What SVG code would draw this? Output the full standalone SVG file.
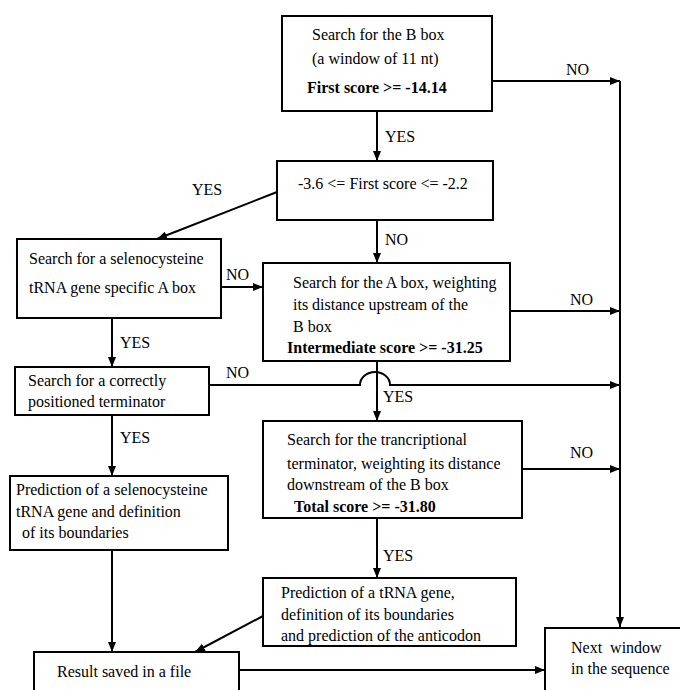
<svg xmlns="http://www.w3.org/2000/svg" width="680" height="690" viewBox="0 0 680 690">
<style>
.box{fill:#fff;stroke:#000;stroke-width:2}
.t{font-family:"Liberation Serif","Times New Roman",serif;font-size:16px;fill:#000}
.b{font-weight:bold}
.c{fill:none;stroke:#000;stroke-width:2}
</style>
<defs>
<marker id="ah" viewBox="0 0 10 8" refX="10" refY="4" markerWidth="10" markerHeight="8" markerUnits="userSpaceOnUse" orient="auto">
<path d="M0,0 L10,4 L0,8 z" fill="#000"/>
</marker>
</defs>
<rect width="680" height="690" fill="#fff"/>
<g id="connectors">
<path class="c" d="M492,81 H620" marker-end="url(#ah)"/>
<path class="c" d="M620,81 V627" marker-end="url(#ah)"/>
<path class="c" d="M377,111 V161" marker-end="url(#ah)"/>
<path class="c" d="M277,192 L157,239" marker-end="url(#ah)"/>
<path class="c" d="M377,220 V263" marker-end="url(#ah)"/>
<path class="c" d="M221,287 H263" marker-end="url(#ah)"/>
<path class="c" d="M510,311 H620" marker-end="url(#ah)"/>
<path class="c" d="M112,318 V367" marker-end="url(#ah)"/>
<path class="c" d="M209,385 H360 A15,13 0 0 1 390,385 H620" marker-end="url(#ah)"/>
<path class="c" d="M377,361 V421" marker-end="url(#ah)"/>
<path class="c" d="M112,415 V476" marker-end="url(#ah)"/>
<path class="c" d="M522,469 H620" marker-end="url(#ah)"/>
<path class="c" d="M377,518 V578" marker-end="url(#ah)"/>
<path class="c" d="M112,550 V652" marker-end="url(#ah)"/>
<path class="c" d="M263,616 L195,652" marker-end="url(#ah)"/>
<path class="c" d="M239,670 H545" marker-end="url(#ah)"/>
<text class="t" x="566" y="75">NO</text>
<text class="t" x="385" y="142">YES</text>
<text class="t" x="192" y="195">YES</text>
<text class="t" x="385" y="245">NO</text>
<text class="t" x="226" y="280">NO</text>
<text class="t" x="570" y="305">NO</text>
<text class="t" x="120" y="348">YES</text>
<text class="t" x="226" y="378">NO</text>
<text class="t" x="383" y="402">YES</text>
<text class="t" x="120" y="443">YES</text>
<text class="t" x="570" y="458">NO</text>
<text class="t" x="383" y="561">YES</text>
</g>
<g id="bbox">
<rect class="box" x="282" y="16" width="210" height="95"/>
<text class="t" x="312" y="40">Search for the B box</text>
<text class="t" x="312" y="64">(a window of 11 nt)</text>
<text class="t b" x="307" y="93">First score &gt;= -14.14</text>
</g>
<g id="decision">
<rect class="box" x="277" y="161" width="216" height="59"/>
<text class="t" x="298" y="189">-3.6 &lt;= First score &lt;= -2.2</text>
</g>
<g id="seleno">
<rect class="box" x="17" y="239" width="204" height="79"/>
<text class="t" x="29" y="264">Search for a selenocysteine</text>
<text class="t" x="29" y="293">tRNA gene specific A box</text>
</g>
<g id="abox">
<rect class="box" x="263" y="263" width="247" height="98"/>
<text class="t" x="293" y="288">Search for the A box, weighting</text>
<text class="t" x="293" y="310">its distance upstream of the</text>
<text class="t" x="293" y="332">B box</text>
<text class="t b" x="287" y="353">Intermediate score &gt;= -31.25</text>
</g>
<g id="posterm">
<rect class="box" x="15" y="367" width="194" height="48"/>
<text class="t" x="28" y="386">Search for a correctly</text>
<text class="t" x="28" y="407">positioned terminator</text>
</g>
<g id="term">
<rect class="box" x="263" y="421" width="259" height="97"/>
<text class="t" x="287" y="445">Search for the trancriptional</text>
<text class="t" x="287" y="469">terminator, weighting its distance</text>
<text class="t" x="287" y="490">downstream of the B box</text>
<text class="t b" x="294" y="512">Total score &gt;= -31.80</text>
</g>
<g id="selpred">
<rect class="box" x="10" y="476" width="218" height="74"/>
<text class="t" x="16" y="495">Prediction of a selenocysteine</text>
<text class="t" x="16" y="517">tRNA gene and definition</text>
<text class="t" x="22" y="538">of its boundaries</text>
</g>
<g id="trnapred">
<rect class="box" x="263" y="578" width="253" height="68"/>
<text class="t" x="281" y="598">Prediction of a tRNA gene,</text>
<text class="t" x="281" y="620">definition of its boundaries</text>
<text class="t" x="281" y="641">and prediction of the anticodon</text>
</g>
<g id="result">
<rect class="box" x="34" y="652" width="205" height="50"/>
<text class="t" x="57" y="677">Result saved in a file</text>
</g>
<g id="next">
<rect class="box" x="545" y="628" width="150" height="70"/>
<text class="t" x="571" y="653" style="white-space:pre">Next  window</text>
<text class="t" x="571" y="674">in the sequence</text>
</g>
</svg>
